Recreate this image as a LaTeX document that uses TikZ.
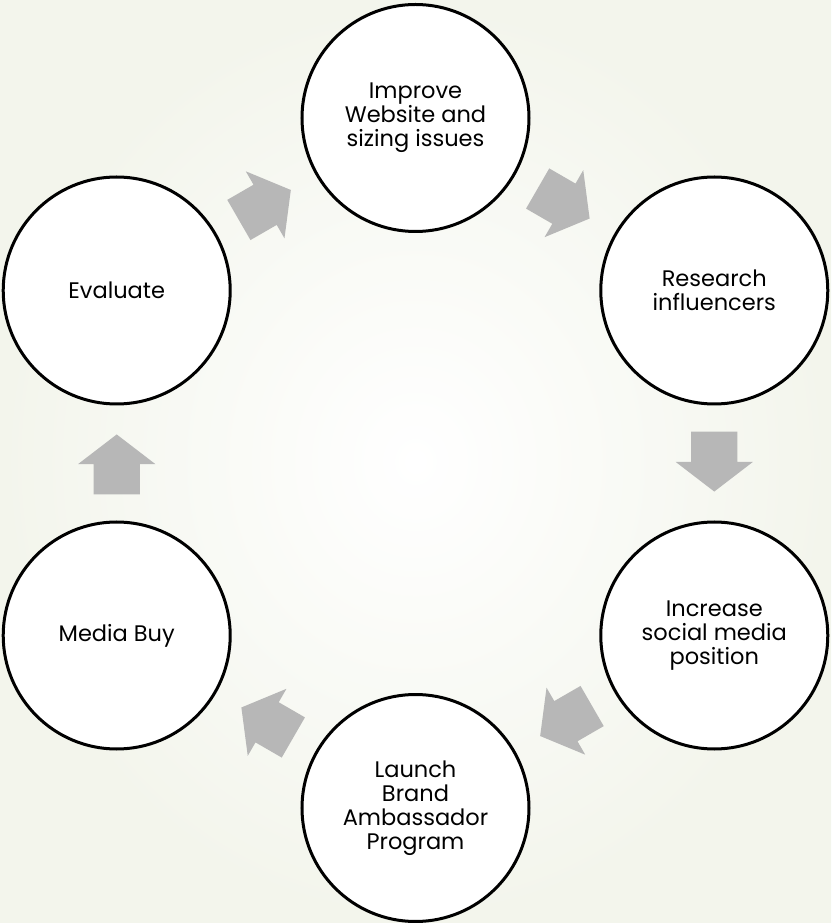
\documentclass[tikz,border=0pt]{standalone}
\usepackage{fontspec}
\setmainfont{Poppins}
\usetikzlibrary{positioning,shapes.arrows,calc}
\definecolor{bgedge}{RGB}{243,245,236}
\definecolor{arrowgray}{RGB}{183,183,183}
\tikzset{
  stepnode/.style={circle,draw,line width=3pt,fill=white,minimum size=227pt,
    inner sep=0pt,align=center,font=\fontsize{22.5}{24}\selectfont},
  turnarrow/.style={single arrow,fill=arrowgray,draw=none,minimum height=60pt,
    inner xsep=0pt,inner ysep=23pt,single arrow head extend=15.5pt,
    single arrow tip angle=105}
}
\begin{document}
\begin{tikzpicture}
  % background
  \shade[inner color=white,outer color=bgedge] (-415.5pt,-460pt) rectangle (415.5pt,463pt);
  \useasboundingbox (-415.5pt,-460pt) rectangle (415.5pt,463pt);
  % the six steps
  \node[stepnode] (web) at (90:345pt) {Improve\\Website and\\sizing issues};
  \node[stepnode] (res) at (30:345pt) {Research\\influencers};
  \node[stepnode] (soc) at (-30:345pt) {Increase\\social media\\position};
  \node[stepnode] (amb) at (-90:345pt) {Launch\\Brand\\Ambassador\\Program};
  \node[stepnode] (buy) at (210:345pt) {Media Buy};
  \node[stepnode] (eval) at (150:345pt) {Evaluate};
  % arrows between them
  \node[turnarrow,rotate=30] (a1) at ($(eval)!0.47!(web)$) {};
  \node[turnarrow,rotate=-30] (a2) at ($(web)!0.47!(res)$) {};
  \node[turnarrow,rotate=-90] (a3) at ($(res)!0.47!(soc)$) {};
  \node[turnarrow,rotate=210] (a4) at ($(soc)!0.47!(amb)$) {};
  \node[turnarrow,rotate=150] (a5) at ($(amb)!0.47!(buy)$) {};
  \node[turnarrow,rotate=90] (a6) at ($(buy)!0.47!(eval)$) {};
\end{tikzpicture}
\end{document}
